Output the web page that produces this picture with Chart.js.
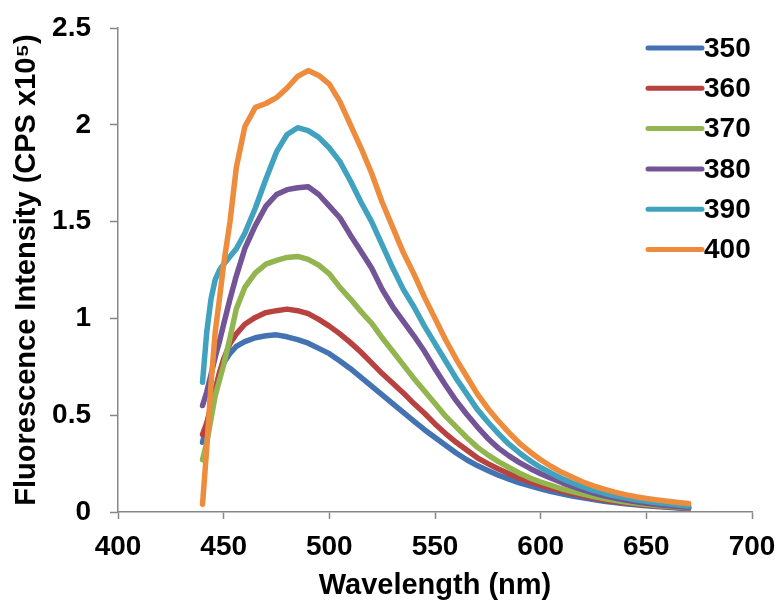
<!DOCTYPE html>
<html>
<head>
<meta charset="utf-8">
<script src="https://cdn.jsdelivr.net/npm/chart.js@4.4.1/dist/chart.umd.min.js"></script>
<style>
  html, body { margin: 0; padding: 0; background: #fff; }
  canvas { display: block; }
</style>
</head>
<body>
<canvas id="spectra" width="779" height="605"></canvas>
<script>
// Emission wavelengths (nm), shared by every excitation series
const wavelengths = [440, 442, 444, 446, 448, 450, 453, 456, 460, 465, 470, 475, 480, 485, 490, 495, 500,
  505, 510, 515, 520, 525, 530, 535, 540, 545, 550, 555, 560, 565, 570, 575, 580, 585, 590, 595, 600,
  605, 610, 615, 620, 625, 630, 635, 640, 645, 650, 655, 660, 665, 670];

// Excitation wavelengths used as series names
const excitations = ['350', '360', '370', '380', '390', '400'];

// Fluorescence intensity (CPS x10^5) per excitation wavelength
const ex350 = [0.36, 0.45, 0.55, 0.63, 0.71, 0.77, 0.82, 0.855, 0.88, 0.90, 0.91, 0.915, 0.905, 0.89, 0.872, 0.845, 0.818,
  0.78, 0.74, 0.695, 0.65, 0.605, 0.56, 0.515, 0.47, 0.425, 0.385, 0.345, 0.305, 0.27, 0.24, 0.215, 0.19, 0.17, 0.15, 0.135, 0.12,
  0.106, 0.094, 0.083, 0.073, 0.064, 0.056, 0.049, 0.043, 0.037, 0.032, 0.028, 0.024, 0.021, 0.018];
const ex360 = [0.40, 0.46, 0.54, 0.63, 0.72, 0.79, 0.87, 0.92, 0.97, 1.005, 1.03, 1.04, 1.048, 1.04, 1.025, 0.995, 0.96,
  0.92, 0.875, 0.825, 0.77, 0.715, 0.665, 0.615, 0.56, 0.51, 0.455, 0.405, 0.36, 0.32, 0.28, 0.25, 0.222, 0.197, 0.175, 0.155, 0.138,
  0.122, 0.108, 0.095, 0.083, 0.072, 0.062, 0.054, 0.047, 0.041, 0.035, 0.031, 0.027, 0.023, 0.02];
const ex370 = [0.27, 0.36, 0.48, 0.60, 0.68, 0.76, 0.90, 1.05, 1.16, 1.235, 1.28, 1.30, 1.315, 1.32, 1.305, 1.275, 1.23,
  1.16, 1.10, 1.035, 0.975, 0.90, 0.83, 0.76, 0.69, 0.625, 0.56, 0.495, 0.44, 0.385, 0.335, 0.295, 0.26, 0.23, 0.20, 0.175, 0.155,
  0.137, 0.12, 0.105, 0.092, 0.08, 0.069, 0.06, 0.052, 0.045, 0.039, 0.034, 0.03, 0.026, 0.022];
const ex380 = [0.55, 0.62, 0.71, 0.80, 0.88, 0.97, 1.10, 1.22, 1.36, 1.48, 1.58, 1.64, 1.665, 1.675, 1.68, 1.64, 1.58,
  1.52, 1.43, 1.345, 1.26, 1.15, 1.06, 0.985, 0.91, 0.83, 0.74, 0.655, 0.575, 0.505, 0.44, 0.38, 0.33, 0.29, 0.255, 0.225, 0.198,
  0.174, 0.152, 0.132, 0.114, 0.098, 0.084, 0.072, 0.062, 0.053, 0.045, 0.039, 0.033, 0.028, 0.024];
const ex390 = [0.67, 0.93, 1.10, 1.20, 1.25, 1.28, 1.32, 1.36, 1.44, 1.57, 1.72, 1.86, 1.95, 1.985, 1.97, 1.935, 1.88,
  1.81, 1.71, 1.60, 1.50, 1.38, 1.26, 1.15, 1.06, 0.96, 0.87, 0.78, 0.69, 0.61, 0.53, 0.465, 0.405, 0.35, 0.305, 0.265, 0.23,
  0.20, 0.173, 0.15, 0.13, 0.112, 0.097, 0.084, 0.073, 0.063, 0.055, 0.048, 0.042, 0.036, 0.031];
const ex400 = [0.04, 0.33, 0.66, 0.93, 1.10, 1.28, 1.50, 1.78, 1.99, 2.09, 2.11, 2.14, 2.19, 2.25, 2.28, 2.255, 2.21,
  2.12, 2.00, 1.88, 1.75, 1.60, 1.47, 1.34, 1.23, 1.11, 1.00, 0.89, 0.79, 0.70, 0.61, 0.535, 0.47, 0.41, 0.355, 0.31, 0.27,
  0.235, 0.205, 0.18, 0.155, 0.135, 0.118, 0.103, 0.09, 0.079, 0.07, 0.062, 0.055, 0.049, 0.044];

const seriesValues = [ex350, ex360, ex370, ex380, ex390, ex400];
const seriesColors = ['#4373B2', '#B8423F', '#92B550', '#725497', '#40A2BE', '#EC8C3C'];

// Axis ticks
const xTicks = [400, 450, 500, 550, 600, 650, 700];
const yTicks = [0, 0.5, 1, 1.5, 2, 2.5];

const FONT = '"Liberation Sans", Arial, sans-serif';
const AXIS_GREY = '#878787';

// Legend drawn inside the plot, top right, as short thick line + bold label
const sideLegend = {
  id: 'sideLegend',
  afterDraw(chart) {
    const { ctx, chartArea } = chart;
    const x0 = chartArea.right - 104;
    const y0 = chartArea.top + 20;
    ctx.save();
    ctx.font = 'bold 28px ' + FONT;
    ctx.textBaseline = 'middle';
    ctx.textAlign = 'left';
    chart.data.datasets.forEach((ds, i) => {
      const y = y0 + i * 40.3;
      ctx.strokeStyle = ds.borderColor;
      ctx.lineWidth = 5;
      ctx.lineCap = 'round';
      ctx.beginPath();
      ctx.moveTo(x0, y);
      ctx.lineTo(x0 + 54, y);
      ctx.stroke();
      ctx.fillStyle = '#000';
      ctx.fillText(ds.label, x0 + 56, y + 1);
    });
    ctx.restore();
  }
};

const datasets = excitations.map((label, i) => ({
  label: label,
  data: wavelengths.map((w, j) => ({ x: w, y: seriesValues[i][j] })),
  borderColor: seriesColors[i],
  borderWidth: 5.5,
  pointRadius: 0,
  tension: 0,
  borderCapStyle: 'round',
  borderJoinStyle: 'round',
  fill: false,
  order: excitations.length - i   // later series drawn on top
}));

new Chart(document.getElementById('spectra').getContext('2d'), {
  type: 'line',
  data: { datasets: datasets },
  options: {
    responsive: false,
    animation: false,
    devicePixelRatio: 1,
    layout: { padding: { top: 28, right: 27, left: 0, bottom: 0 } },
    plugins: { legend: { display: false }, tooltip: { enabled: false } },
    scales: {
      x: {
        type: 'linear',
        min: 400, max: 700,
        afterBuildTicks: (scale) => { scale.ticks = xTicks.map(v => ({ value: v })); },
        afterFit: (scale) => {
          // fixed band under the plot; edge labels may hang into the outer padding
          scale.height = 93;
          scale.paddingLeft = 0;
          scale.paddingRight = 0;
        },
        ticks: { color: '#000', padding: 11, font: { family: FONT, size: 28, weight: 'bold' } },
        grid: { drawOnChartArea: false, drawTicks: true, tickLength: 7, tickWidth: 1.5, tickColor: AXIS_GREY },
        border: { color: AXIS_GREY, width: 1.5 },
        title: {
          display: true, text: 'Wavelength (nm)', color: '#000',
          font: { family: FONT, size: 29, weight: 'bold' }, padding: { top: 0, bottom: 2 }
        }
      },
      y: {
        min: 0, max: 2.5,
        afterBuildTicks: (scale) => { scale.ticks = yTicks.map(v => ({ value: v })); },
        afterFit: (scale) => {
          scale.width = 118;
          scale.paddingTop = 0;
          scale.paddingBottom = 0;
        },
        ticks: {
          color: '#000', padding: 19, font: { family: FONT, size: 28, weight: 'bold' },
          callback: (v) => String(v)
        },
        grid: { drawOnChartArea: false, drawTicks: true, tickLength: 8, tickWidth: 1.5, tickColor: AXIS_GREY },
        border: { color: AXIS_GREY, width: 1.5 },
        title: {
          display: true, text: 'Fluorescence Intensity (CPS x10\u2075)', color: '#000',
          font: { family: FONT, size: 29, weight: 'bold' }, padding: { top: 10, bottom: 0 }
        }
      }
    }
  },
  plugins: [sideLegend]
});
</script>
</body>
</html>
